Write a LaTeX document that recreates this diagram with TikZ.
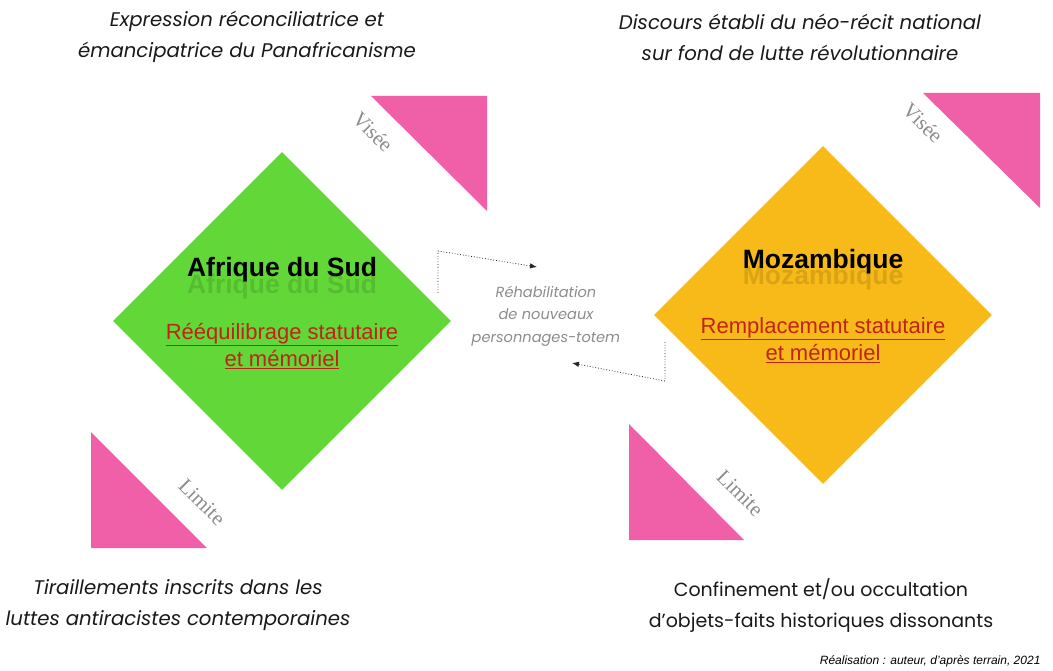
\documentclass[tikz,border=0pt]{standalone}
\usepackage{fontspec}
\setmainfont{Liberation Sans}
\newfontfamily\geofont{Poppins}
\newfontfamily\labfont{Liberation Serif}
\usepackage{xcolor}
\usepackage{tikz}
\usetikzlibrary{arrows.meta, shapes.geometric, positioning}

\definecolor{rsagreen}{RGB}{98,216,56}
\definecolor{mozorange}{RGB}{248,186,24}
\definecolor{tripink}{RGB}{240,96,168}
\definecolor{notered}{RGB}{192,36,24}

\begin{document}
\begin{tikzpicture}[
  x=1pt, y=-1pt, >={Latex[length=7pt,width=5.5pt]},
  countrybox/.style={diamond, aspect=1, inner sep=0pt, draw=none,
                     minimum width=338pt, minimum height=338pt},
  namelab/.style={font=\fontsize{26.5}{30}\selectfont\bfseries, text=black},
  ghostlab/.style={font=\fontsize{26.5}{30}\selectfont\bfseries,
                   text=black, opacity=0.12},
  redlab/.style={font=\fontsize{22}{27}\selectfont, text=notered,
                 align=center},
  headlab/.style={font=\geofont\itshape\fontsize{19.7}{31}\selectfont,
                  align=center, text=black!90},
  poslab/.style={font=\labfont\fontsize{21}{22}\selectfont,
                 text=black!45, rotate=-45},
  midlab/.style={font=\geofont\itshape\fontsize{14.6}{22.5}\selectfont,
                 text=black!45, align=center},
  flowline/.style={->, dotted, black!85, line width=0.8pt}
]

\useasboundingbox (0,0) rectangle (1053,671);

% pink corners
\fill[tripink] (371,96) -- (487,96) -- (487,211) -- cycle;
\fill[tripink] (91,432) -- (91,548) -- (207,548) -- cycle;
\fill[tripink] (923,93) -- (1040,93) -- (1040,208) -- cycle;
\fill[tripink] (629,424) -- (629,540) -- (744,540) -- cycle;

\node[poslab] (rsavisee)  at (373,132) {Visée};
\node[poslab] (rsalimite) at (202,502) {Limite};
\node[poslab] (mozvisee)  at (923,123) {Visée};
\node[poslab] (mozlimite) at (740,493) {Limite};

% countries
\node[countrybox, fill=rsagreen]  (rsa) at (282,321) {};
\node[countrybox, fill=mozorange] (moz) at (823,315) {};

\node[ghostlab] (rsaghost) at ([yshift=34pt]rsa.center) {Afrique du Sud};
\node[namelab]  (rsaname)  at ([yshift=51pt]rsa.center) {Afrique du Sud};
\node[redlab]   (rsanote)  at ([yshift=-25pt]rsa.center)
  {\underline{Rééquilibrage statutaire}\\\underline{et mémoriel}};

\node[ghostlab] (mozghost) at ([yshift=37pt]moz.center) {Mozambique};
\node[namelab]  (mozname)  at ([yshift=53pt]moz.center) {Mozambique};
\node[redlab]   (moznote)  at ([yshift=-25pt]moz.center)
  {\underline{Remplacement statutaire}\\\underline{et mémoriel}};

% exchange
\node[midlab] (totem) at (546,316)
  {Réhabilitation\\de nouveaux\\personnages-totem};

\coordinate (upstart) at (438,293);
\coordinate (upbend)  at (438,251);
\coordinate (uptip)   at (537,267);
\coordinate (lowstart) at (665,342);
\coordinate (lowbend)  at (665,381);
\coordinate (lowtip)   at (572,363);

\draw[flowline] (upstart) -- (upbend) -- (uptip);
\draw[flowline] (lowstart) -- (lowbend) -- (lowtip);

% headings
\node[headlab] (rsatop) at (247,37)
  {Expression réconciliatrice et\\émancipatrice du Panafricanisme};
\node[headlab] (moztop) at (800,37)
  {Discours établi du néo-récit national\\sur fond de lutte révolutionnaire};
\node[headlab] (rsabot) at (178,605)
  {Tiraillements inscrits dans les\\luttes antiracistes contemporaines};
\node[headlab, font=\geofont\fontsize{19}{31}\selectfont] (mozbot) at (821,606)
  {Confinement et/ou occultation\\d’objets-faits historiques dissonants};

\node[anchor=east, font=\fontsize{12}{14}\selectfont\itshape] (credit) at (1044,661)
  {Réalisation : auteur, d’après terrain, 2021};

\end{tikzpicture}
\end{document}
